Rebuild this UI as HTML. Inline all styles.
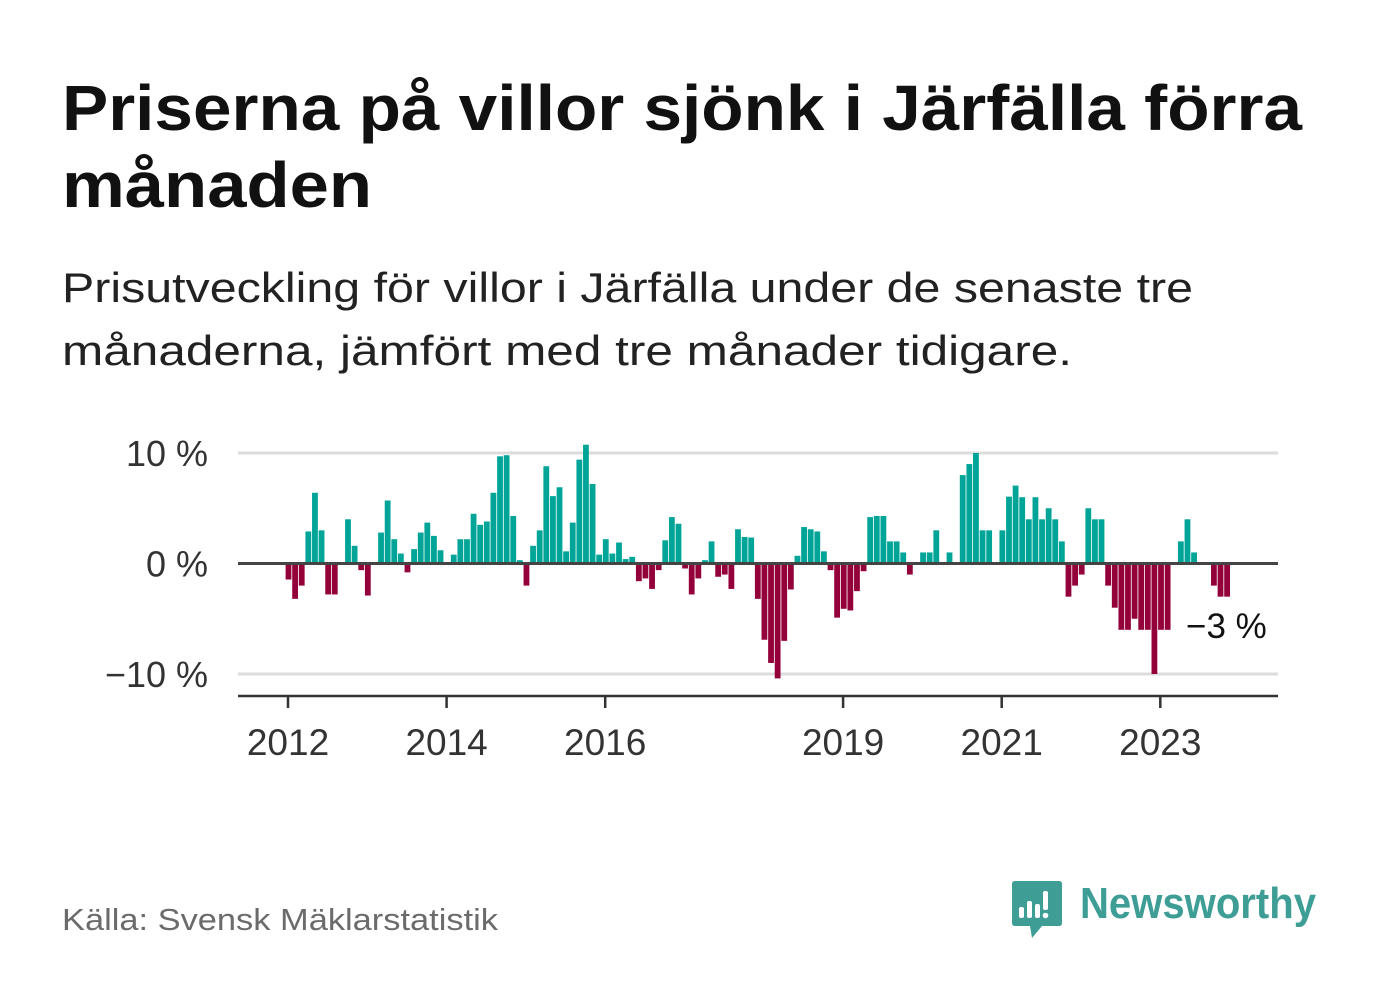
<!DOCTYPE html>
<html><head><meta charset="utf-8"><style>
html,body{margin:0;padding:0;background:#fff;}
svg{display:block;font-family:"Liberation Sans",sans-serif;}
</style></head><body>
<svg id="root" width="1382" height="999" viewBox="0 0 1382 999">
  <text x="62" y="130" font-size="64" font-weight="bold" fill="#111" textLength="1240" lengthAdjust="spacingAndGlyphs">Priserna på villor sjönk i Järfälla förra</text>
  <text x="62" y="207" font-size="64" font-weight="bold" fill="#111" textLength="310" lengthAdjust="spacingAndGlyphs">månaden</text>
  <text x="62" y="302" font-size="42" fill="#222" textLength="1131" lengthAdjust="spacingAndGlyphs">Prisutveckling för villor i Järfälla under de senaste tre</text>
  <text x="62" y="365" font-size="42" fill="#222" textLength="1010" lengthAdjust="spacingAndGlyphs">månaderna, jämfört med tre månader tidigare.</text>
  <g id="plot"></g>
  <text x="62" y="930" font-size="31" fill="#6b6b6b" textLength="436" lengthAdjust="spacingAndGlyphs">Källa: Svensk Mäklarstatistik</text>
  <g>
    <path d="M1015 881 H1059 Q1062 881 1062 884 V923 Q1062 926 1059 926 H1042 L1032 938 L1030 926 H1015 Q1012 926 1012 923 V884 Q1012 881 1015 881 Z" fill="#3e9e96"/>
    <rect x="1019" y="907" width="5" height="11" rx="2" fill="#fff"/>
    <rect x="1027" y="901" width="5" height="17" rx="2" fill="#fff"/>
    <rect x="1035" y="904" width="5" height="14" rx="2" fill="#fff"/>
    <rect x="1043" y="891" width="5" height="19" rx="2" fill="#fff"/>
    <circle cx="1045.5" cy="915.5" r="2.8" fill="#fff"/>
    <text x="1080" y="918" font-size="44" font-weight="bold" fill="#3e9e96" textLength="236" lengthAdjust="spacingAndGlyphs">Newsworthy</text>
  </g>
</svg>
<script>
const values = [-1.45,-3.2,-2.0,2.9,6.4,3.0,-2.8,-2.8,0,4.0,1.6,-0.6,-2.9,0,2.8,5.7,2.2,0.9,-0.8,1.3,2.8,3.7,2.5,1.2,
0,0.8,2.2,2.2,4.5,3.5,3.8,6.4,9.7,9.8,4.3,0.3,-2.0,1.6,3.0,8.8,6.1,6.9,1.1,3.7,9.4,10.75,7.2,0.8,
2.2,0.9,1.9,0.4,0.6,-1.6,-1.35,-2.3,-0.6,2.1,4.2,3.6,-0.45,-2.8,-1.35,0.3,2.0,-1.2,-1.0,-2.3,3.1,2.4,2.35,-3.2,
-6.9,-9.0,-10.4,-7.0,-2.35,0.7,3.3,3.1,2.9,1.1,-0.6,-4.9,-4.1,-4.25,-2.5,-0.7,4.2,4.3,4.3,2.0,2.0,1.0,-1.0,0,
1.0,1.0,3.0,0,1.0,0,8.0,9.0,10.0,3.0,3.0,0,3.0,6.05,7.05,6.0,4.0,6.0,4.0,5.0,4.0,2.0,-3.0,-2.0,-1.0,5.0,4.0,4.0,
-2.0,-4.0,-6.0,-6.0,-5.0,-6.0,-6.0,-10.0,-6.0,-6.0,0,2.0,4.0,1.0,0,0,-2.0,-3.0,-3.0];
const startYear = 2012;
const yTicks = [10, 0, -10];
const yTickLabels = ["10 %", "0 %", "−10 %"];
const xTicks = [2012, 2014, 2016, 2019, 2021, 2023];
const lastLabel = "−3 %";

const NS = "http://www.w3.org/2000/svg";
const plot = document.getElementById("plot");
const X0 = 238, X1 = 1278;
function xMonth(i){ return 288.5 + i * 6.61; }
function xYear(y){ return 288 + (y - startYear) * 79.3; }
function yVal(v){ return 563.5 - v * 11.05; }
function mk(tag, attrs){ const e = document.createElementNS(NS, tag); for (const k in attrs) e.setAttribute(k, attrs[k]); plot.appendChild(e); return e; }

yTicks.forEach((t, k) => {
  if (t !== 0) {
    const g = mk("line", {x1: X0, x2: X1, y1: yVal(t), y2: yVal(t), stroke: "#dcdcdc", "stroke-width": 3});
    
    
  }
  const lab = mk("text", {x: 208, y: yVal(t) + 13, "font-size": 36, fill: "#333", "text-anchor": "end"});
  lab.textContent = yTickLabels[k];
  
  
});

values.forEach((v, i) => {
  if (v === 0) return;
  const y = Math.min(yVal(v), yVal(0));
  const h = Math.abs(yVal(v) - yVal(0));
  const r = mk("rect", {x: xMonth(i) - 2.9, y: y, width: 5.8, height: h, fill: v > 0 ? "#00a598" : "#93003a"});
  
  
});

const zl = mk("line", {x1: X0, x2: X1, y1: yVal(0), y2: yVal(0), stroke: "#444", "stroke-width": 3});



const ax = mk("line", {x1: X0, x2: X1, y1: 696, y2: 696, stroke: "#333", "stroke-width": 2.5});



xTicks.forEach(yr => {
  const tk = mk("line", {x1: xYear(yr), x2: xYear(yr), y1: 696, y2: 708, stroke: "#333", "stroke-width": 2.5});
  
  
  const lb = mk("text", {x: xYear(yr), y: 755, "font-size": 37, fill: "#333", "text-anchor": "middle"});
  lb.textContent = String(yr);
  
  
});

const ll = mk("text", {x: 1186, y: 638, "font-size": 35, fill: "#111"});
ll.textContent = lastLabel;


</script>
</body></html>
